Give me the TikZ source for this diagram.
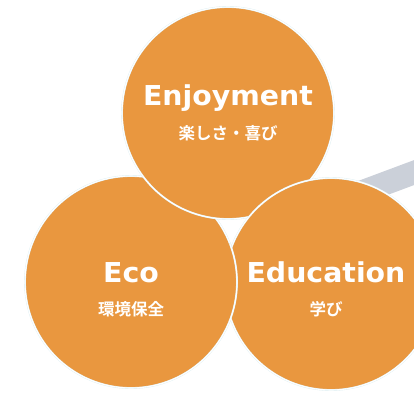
\documentclass[tikz,border=0pt]{standalone}
\usepackage{fontspec}
\newfontfamily\latinbold{DejaVu Sans}[BoldFont={* Bold}]
\newfontfamily\jpfont{Noto Sans CJK JP}[BoldFont={* Bold}]
\definecolor{orangefill}{HTML}{E9973F}
\definecolor{bandgray}{HTML}{CBD0D9}
\definecolor{haloblue}{HTML}{DCEEF2}
\begin{document}
\begin{tikzpicture}[x=1pt,y=-1pt,
  bubble/.style={circle, minimum size=212pt, inner sep=0pt, fill=orangefill},
  halo/.style={draw=haloblue, line width=1.8pt},
  rim/.style={draw=white, line width=1.1pt},
  title/.style={anchor=base, text=white, inner sep=0pt, font=\latinbold\bfseries\fontsize{27.4}{30}\selectfont},
  sub/.style={anchor=base, text=white, inner sep=0pt, font=\jpfont\bfseries\fontsize{16.5}{18}\selectfont}]
\useasboundingbox (0,0) rectangle (414,392);
\begin{scope}
\clip (0,0) rectangle (414,392);
% gray band
\fill[bandgray] (358,181) -- (433,153) -- (441,175) -- (366,203) -- cycle;
% Eco
\node[bubble] (eco) at (131,282) {};
\draw[halo] (eco.center) circle (106);
\draw[rim] (eco.center) circle (106);
% Enjoyment
\node[bubble] (enj) at (228,113) {};
\draw[halo] (enj.center) circle (106);
\draw[rim] (enj.center) circle (106);
% Education
\node[bubble] (edu) at (331,284) {};
\draw[halo] (edu.center) circle (106);
\draw[rim] (edu.center) circle (106);
% Eco again over Education (cyclic overlap)
\begin{scope}
\clip (edu.center) circle (109);
\fill[orangefill] (eco.center) circle (106);
\draw[halo] (eco.center) circle (106);
\draw[rim] (eco.center) circle (106);
\end{scope}
\end{scope}
% texts
\node[title] (t1) at (228,105) {\scalebox{1.035}[1]{Enjoyment}};
\node[sub] (s1) at (228,139) {楽しさ・喜び};
\node[title] (t2) at (131,282) {\scalebox{1.035}[1]{Eco}};
\node[sub] (s2) at (131,315) {環境保全};
\node[title] (t3) at (326,282) {\scalebox{1.035}[1]{Education}};
\node[sub] (s3) at (326,315) {学び};
\end{tikzpicture}
\end{document}
